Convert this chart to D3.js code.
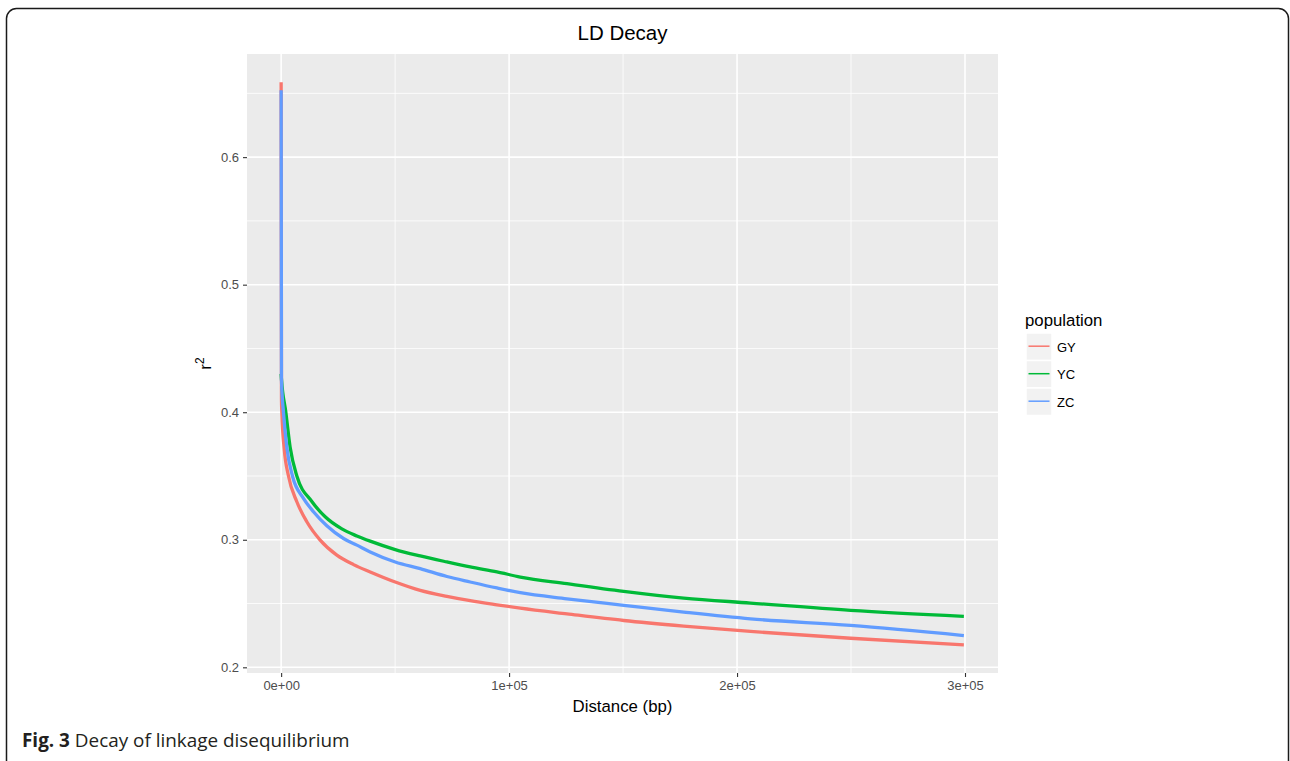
<!DOCTYPE html>
<html>
<head>
<meta charset="utf-8">
<script src="https://cdn.jsdelivr.net/npm/d3@7"></script>
<style>
  body { margin: 0; background: #fff; }
  svg { display: block; }
</style>
</head>
<body>
<svg id="drawing_region"></svg>
<script>
// values (distance in bp, mean r^2)
const populations = ['GY', 'YC', 'ZC'];
const colors = ['#F8766D', '#00BA38', '#619CFF'];

const gyDist = [0, 150, 300, 1320, 3220, 6890, 11270, 17120, 24440, 31760, 39070, 50050, 61020, 72730, 82970, 94680, 104920, 125400, 150280, 176600, 205890, 249800, 299500];
const gyR2   = [0.6588, 0.410, 0.400, 0.3718, 0.350, 0.3298, 0.3141, 0.2997, 0.2879, 0.2805, 0.2748, 0.2669, 0.2603, 0.2556, 0.2522, 0.2490, 0.2464, 0.2419, 0.2367, 0.2323, 0.2281, 0.2228, 0.2176];

const ycDist = [0, 150, 2060, 3950, 6890, 13470, 19320, 26640, 33220, 39070, 50050, 61020, 72730, 82970, 94680, 104920, 125400, 150280, 176600, 205890, 249800, 299500];
const ycR2   = [0.430, 0.426, 0.400, 0.3725, 0.3500, 0.3300, 0.3180, 0.3085, 0.3030, 0.2989, 0.2923, 0.2873, 0.2826, 0.2787, 0.2748, 0.2708, 0.2656, 0.2596, 0.2543, 0.2504, 0.2446, 0.2399];

const zcDist = [0, 150, 1020, 2490, 4970, 9800, 14190, 20050, 27360, 33220, 39070, 50050, 61020, 72730, 82970, 94680, 104920, 125400, 150280, 176600, 205890, 249800, 299500];
const zcR2   = [0.6525, 0.425, 0.400, 0.3725, 0.3500, 0.3325, 0.3220, 0.3110, 0.3010, 0.2958, 0.2905, 0.2826, 0.2774, 0.2712, 0.2669, 0.2622, 0.2585, 0.2537, 0.2486, 0.2433, 0.2380, 0.2328, 0.2249];

const xTicks = [0, 100000, 200000, 300000];
const xTickLabels = ['0e+00', '1e+05', '2e+05', '3e+05'];
const xMinor = [50000, 150000, 250000];
const yTicks = [0.2, 0.3, 0.4, 0.5, 0.6];
const yMinor = [0.25, 0.35, 0.45, 0.55, 0.65];

const series = [
    { name: 'GY', dist: gyDist, r2: gyR2 },
    { name: 'YC', dist: ycDist, r2: ycR2 },
    { name: 'ZC', dist: zcDist, r2: zcR2 }
];

const config = {
    width: 1290,
    height: 761,
    margin: { top: 54, right: 292, bottom: 88, left: 247 }
};

const svg = d3.select('#drawing_region')
    .attr('width', config.width)
    .attr('height', config.height);

// figure frame
svg.append('rect')
    .attr('x', 6.5).attr('y', 8.5)
    .attr('width', 1282).attr('height', 770)
    .attr('rx', 10).attr('ry', 10)
    .attr('fill', 'none')
    .attr('stroke', '#1a1a1a')
    .attr('stroke-width', 1.5);

const inner_width = config.width - config.margin.left - config.margin.right;
const inner_height = config.height - config.margin.top - config.margin.bottom;

const chart = svg.append('g')
    .attr('transform', `translate(${config.margin.left}, ${config.margin.top})`);

// ggplot-style 5% expansion
const allD = d3.merge(series.map(s => s.dist));
const allR = d3.merge(series.map(s => s.r2));
const xr = d3.extent(allD), yr = d3.extent(allR);
const xpad = (xr[1] - xr[0]) * 0.05, ypad = (yr[1] - yr[0]) * 0.05;

const xscale = d3.scaleLinear()
    .domain([xr[0] - xpad, xr[1] + xpad])
    .range([0, inner_width]);

const yscale = d3.scaleLinear()
    .domain([yr[0] - ypad, yr[1] + ypad])
    .range([inner_height, 0]);

chart.append('rect')
    .attr('width', inner_width)
    .attr('height', inner_height)
    .attr('fill', '#EBEBEB');

// grid
chart.selectAll('.yminor').data(yMinor).enter().append('line')
    .attr('x1', 0).attr('x2', inner_width)
    .attr('y1', d => yscale(d)).attr('y2', d => yscale(d))
    .attr('stroke', '#fff').attr('stroke-width', 0.8);
chart.selectAll('.xminor').data(xMinor).enter().append('line')
    .attr('y1', 0).attr('y2', inner_height)
    .attr('x1', d => xscale(d)).attr('x2', d => xscale(d))
    .attr('stroke', '#fff').attr('stroke-width', 0.8);
chart.selectAll('.ymajor').data(yTicks).enter().append('line')
    .attr('x1', 0).attr('x2', inner_width)
    .attr('y1', d => yscale(d)).attr('y2', d => yscale(d))
    .attr('stroke', '#fff').attr('stroke-width', 1.6);
chart.selectAll('.xmajor').data(xTicks).enter().append('line')
    .attr('y1', 0).attr('y2', inner_height)
    .attr('x1', d => xscale(d)).attr('x2', d => xscale(d))
    .attr('stroke', '#fff').attr('stroke-width', 1.6);

// lines
const line = d3.line()
    .x(d => xscale(d[0]))
    .y(d => yscale(d[1]))
    .curve(d3.curveMonotoneX);

chart.selectAll('.series').data(series).enter().append('path')
    .attr('d', s => line(d3.zip(s.dist, s.r2)))
    .attr('fill', 'none')
    .attr('stroke', (s, i) => colors[i])
    .attr('stroke-width', 3.3)
    .attr('stroke-linejoin', 'round');

// axes
const xaxis = d3.axisBottom(xscale)
    .tickValues(xTicks)
    .tickFormat((d, i) => xTickLabels[i])
    .tickSize(4)
    .tickPadding(4)
    .tickSizeOuter(0);

const yaxis = d3.axisLeft(yscale)
    .tickValues(yTicks)
    .tickFormat(d3.format('.1f'))
    .tickSize(4)
    .tickPadding(4)
    .tickSizeOuter(0);

const xaxis_group = chart.append('g')
    .attr('transform', `translate(0, ${inner_height})`)
    .call(xaxis);
const yaxis_group = chart.append('g').call(yaxis);

[xaxis_group, yaxis_group].forEach(g => {
    g.select('.domain').remove();
    g.selectAll('line').attr('stroke', '#333').attr('stroke-width', 1.1);
    g.selectAll('text')
        .attr('fill', '#4D4D4D')
        .style('font-family', '"Liberation Sans", Arial, sans-serif')
        .style('font-size', '13px');
});

// titles
svg.append('text')
    .attr('x', config.margin.left + inner_width / 2)
    .attr('y', 40)
    .attr('text-anchor', 'middle')
    .style('font-family', '"Liberation Sans", Arial, sans-serif')
    .style('font-size', '20.5px')
    .attr('fill', '#000')
    .text('LD Decay');

svg.append('text')
    .attr('x', config.margin.left + inner_width / 2)
    .attr('y', 712)
    .attr('text-anchor', 'middle')
    .style('font-family', '"Liberation Sans", Arial, sans-serif')
    .style('font-size', '16.8px')
    .attr('fill', '#000')
    .text('Distance (bp)');

const ylab = svg.append('text')
    .attr('transform', `translate(211, ${config.margin.top + inner_height / 2}) rotate(-90)`)
    .attr('text-anchor', 'middle')
    .style('font-family', '"Liberation Sans", Arial, sans-serif')
    .style('font-size', '16.8px')
    .attr('fill', '#000');
ylab.append('tspan').text('r');
ylab.append('tspan').attr('dy', -7).style('font-size', '12px').text('2');

// legend
const legend = svg.append('g').attr('transform', 'translate(1026, 333)');
legend.append('text')
    .attr('x', -1).attr('y', -7)
    .style('font-family', '"Liberation Sans", Arial, sans-serif')
    .style('font-size', '16.8px')
    .attr('fill', '#000')
    .text('population');

const keys = legend.selectAll('.key').data(populations).enter().append('g')
    .attr('transform', (d, i) => `translate(0, ${i * 27.5})`);
keys.append('rect')
    .attr('width', 26).attr('height', 27.5)
    .attr('fill', '#F2F2F2')
    .attr('stroke', '#fff').attr('stroke-width', 1.5);
keys.append('line')
    .attr('x1', 2.5).attr('x2', 23.5)
    .attr('y1', 13.2).attr('y2', 13.2)
    .attr('stroke', (d, i) => colors[i])
    .attr('stroke-width', 1.5);
keys.append('text')
    .attr('x', 31).attr('y', 18.5)
    .style('font-family', '"Liberation Sans", Arial, sans-serif')
    .style('font-size', '13px')
    .attr('fill', '#000')
    .text(d => d);

// caption
const cap = svg.append('text')
    .attr('x', 22).attr('y', 747)
    .style('font-family', '"Open Sans", sans-serif')
    .style('font-size', '18.9px')
    .attr('fill', '#231f20');
cap.append('tspan').style('font-weight', 'bold').text('Fig. 3');
cap.append('tspan').text(' Decay of linkage disequilibrium');
</script>
</body>
</html>
